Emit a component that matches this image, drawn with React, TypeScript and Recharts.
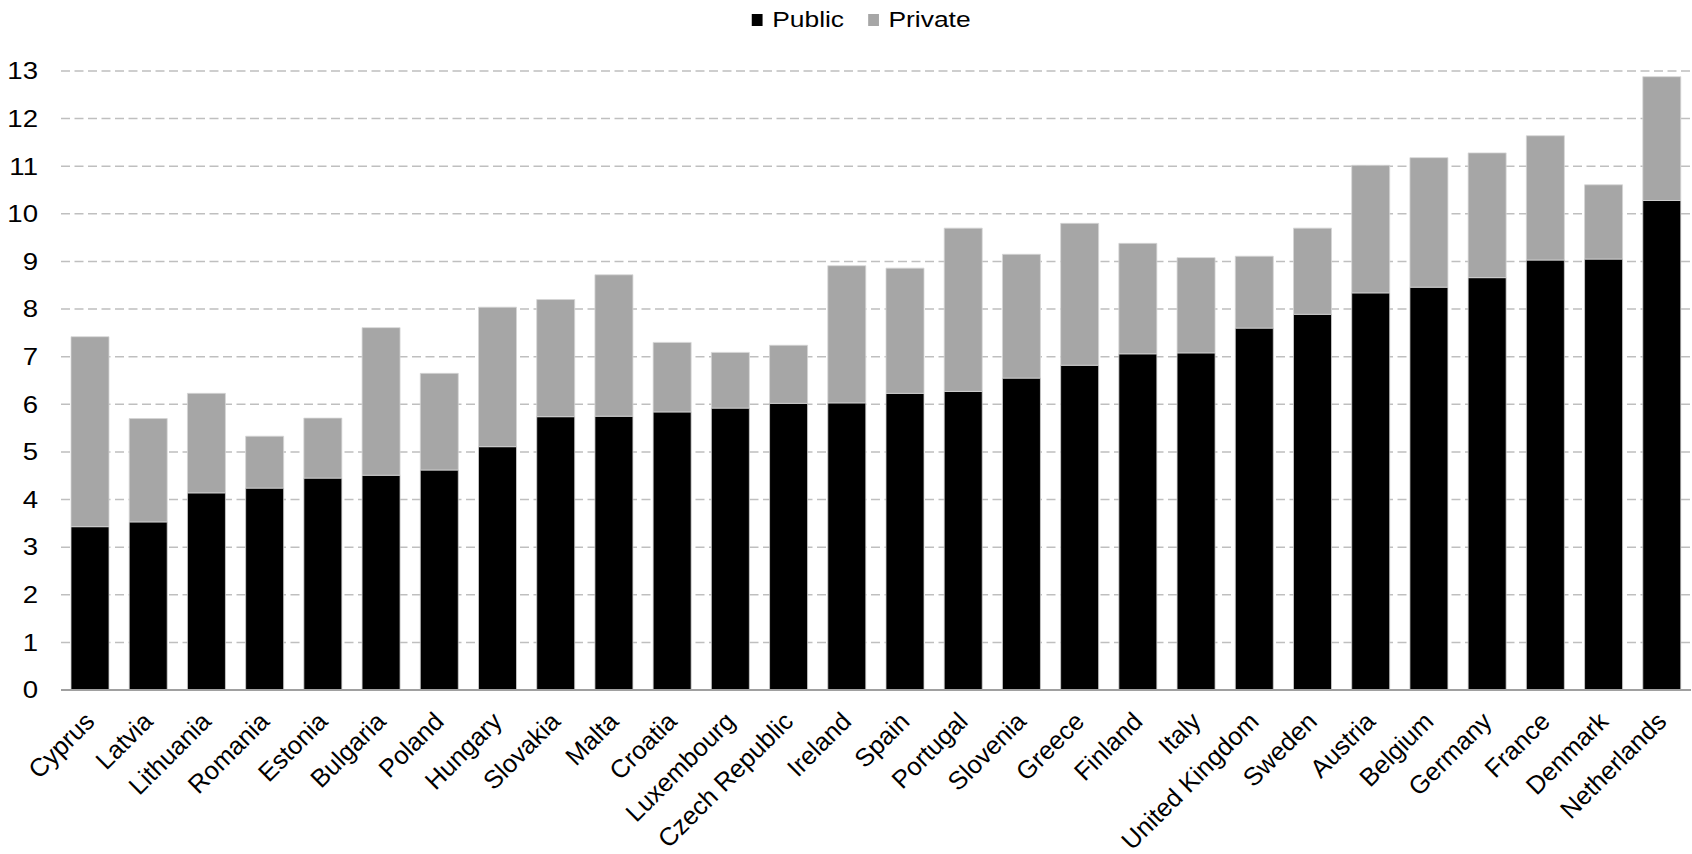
import { Bar, BarChart, CartesianGrid, Legend, XAxis, YAxis } from "recharts";

const countries = [
  "Cyprus", "Latvia", "Lithuania", "Romania", "Estonia", "Bulgaria", "Poland",
  "Hungary", "Slovakia", "Malta", "Croatia", "Luxembourg", "Czech Republic",
  "Ireland", "Spain", "Portugal", "Slovenia", "Greece", "Finland", "Italy",
  "United Kingdom", "Sweden", "Austria", "Belgium", "Germany", "France",
  "Denmark", "Netherlands",
];

const publicValues = [
  3.43, 3.53, 4.14, 4.24, 4.45, 4.51, 4.62, 5.11, 5.74, 5.75, 5.84, 5.92, 6.02,
  6.03, 6.23, 6.27, 6.55, 6.82, 7.06, 7.08, 7.6, 7.89, 8.34, 8.46, 8.66, 9.03,
  9.05, 10.28,
];

const privateValues = [
  3.99, 2.17, 2.09, 1.09, 1.26, 3.1, 2.03, 2.93, 2.46, 2.97, 1.46, 1.17, 1.22,
  2.88, 2.63, 3.43, 2.6, 2.98, 2.32, 2.0, 1.51, 1.81, 2.68, 2.72, 2.62, 2.61,
  1.56, 2.6,
];

const yTicks = [0, 1, 2, 3, 4, 5, 6, 7, 8, 9, 10, 11, 12, 13];

const FONT = '"Liberation Sans", Arial, sans-serif';
const PUBLIC_COLOR = "#000000";
const PRIVATE_COLOR = "#a6a6a6";

const data = countries.map((name, i) => ({
  name,
  Public: publicValues[i],
  Private: privateValues[i],
}));

// the source picture looks stretched horizontally, so the text is too
function YTick({ x, y, payload }: any) {
  return (
    <text
      transform={`translate(${x},${y}) scale(1.2,1)`}
      textAnchor="end"
      dy="0.36em"
      fontSize={23}
      fontFamily={FONT}
      fill="#000"
    >
      {payload.value}
    </text>
  );
}

function XTick({ x, y, payload }: any) {
  return (
    <text
      transform={`translate(${x + 6},${y + 33}) rotate(-45)`}
      textAnchor="end"
      fontSize={25.5}
      fontFamily={FONT}
      fill="#000"
    >
      {payload.value}
    </text>
  );
}

function LegendBox() {
  const items = [
    { label: "Public", color: PUBLIC_COLOR },
    { label: "Private", color: PRIVATE_COLOR },
  ];
  return (
    <div style={{ height: 71, display: "flex", justifyContent: "center" }}>
      <div
        style={{
          display: "flex",
          gap: 20,
          marginTop: 6,
          height: 28,
          alignItems: "center",
          marginLeft: 32,
          transform: "scaleX(1.2)",
          fontFamily: FONT,
          fontSize: 22,
          color: "#000",
        }}
      >
        {items.map((it) => (
          <div key={it.label} style={{ display: "flex", alignItems: "center" }}>
            <span
              style={{
                display: "inline-block",
                width: 9,
                height: 12,
                background: it.color,
                marginRight: 8,
              }}
            />
            {it.label}
          </div>
        ))}
      </div>
    </div>
  );
}

export default function App() {
  return (
    <div style={{ position: "absolute", left: 0, top: 0, background: "#fff" }}>
      <BarChart
        width={1692}
        height={854}
        data={data}
        margin={{ top: 0, right: 1, left: 0, bottom: 0 }}
        barSize={38}
      >
        <Legend verticalAlign="top" align="center" content={<LegendBox />} />
        <CartesianGrid
          vertical={false}
          stroke="#bfbfbf"
          strokeWidth={1.5}
          strokeDasharray="9 4.5"
        />
        <XAxis
          dataKey="name"
          interval={0}
          height={164}
          tickLine={false}
          tickSize={0}
          tickMargin={0}
          axisLine={{ stroke: "#a0a0a0", strokeWidth: 2 }}
          tick={<XTick />}
        />
        <YAxis
          width={61}
          domain={[0, 13]}
          ticks={yTicks}
          interval={0}
          axisLine={false}
          tickLine={false}
          tickSize={0}
          tickMargin={23}
          tick={<YTick />}
        />
        <Bar
          dataKey="Public"
          stackId="a"
          fill={PUBLIC_COLOR}
          stroke="#cfcfcf"
          strokeWidth={0.8}
          isAnimationActive={false}
        />
        <Bar
          dataKey="Private"
          stackId="a"
          fill={PRIVATE_COLOR}
          stroke="#d6d6d6"
          strokeWidth={0.8}
          isAnimationActive={false}
        />
      </BarChart>
    </div>
  );
}
